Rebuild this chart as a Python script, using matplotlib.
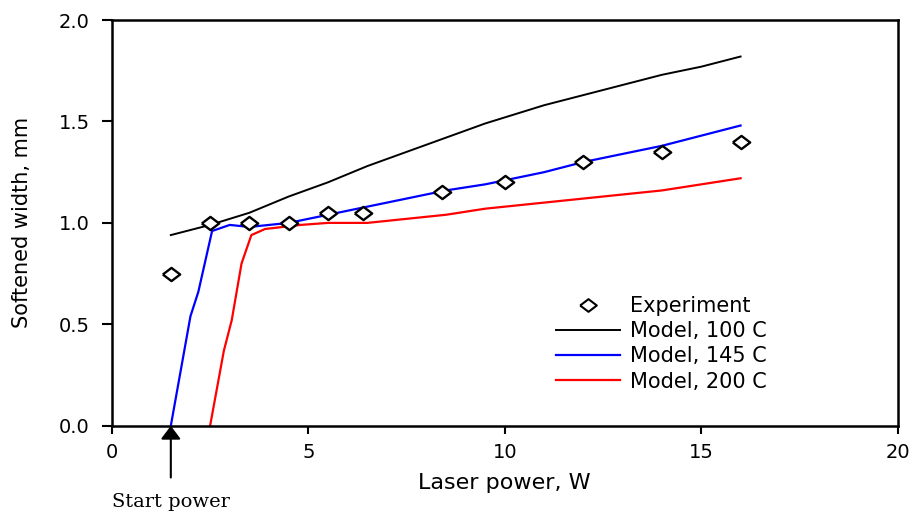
import matplotlib
matplotlib.use("Agg")
import matplotlib.pyplot as plt
from matplotlib.lines import Line2D

plt.rcParams['font.family'] = ['DejaVu Sans']

# Measured softened width
exp_power = [1.5, 2.5, 3.5, 4.5, 5.5, 6.4, 8.4, 10.0, 12.0, 14.0, 16.0]
exp_width = [0.75, 1.0, 1.0, 1.0, 1.05, 1.05, 1.15, 1.2, 1.3, 1.35, 1.4]

# Model predictions at three preheat temperatures
m100_power = [1.5, 2.5, 3.0, 3.5, 4.5, 5.5, 6.5, 7.5, 8.5, 9.5, 10.0, 11.0, 12.0, 13.0, 14.0, 15.0, 16.0]
m100_width = [0.94, 0.99, 1.02, 1.05, 1.13, 1.20, 1.28, 1.35, 1.42, 1.49, 1.52, 1.58, 1.63, 1.68, 1.73, 1.77, 1.82]

m145_power = [1.5, 2.0, 2.2, 2.55, 3.0, 3.5, 4.5, 5.5, 6.5, 7.5, 8.5, 9.5, 10.0, 11.0, 12.0, 13.0, 14.0, 15.0, 16.0]
m145_width = [0.0, 0.54, 0.66, 0.96, 0.99, 0.98, 1.0, 1.04, 1.08, 1.12, 1.16, 1.19, 1.21, 1.25, 1.30, 1.34, 1.38, 1.43, 1.48]

m200_power = [2.5, 2.85, 3.05, 3.3, 3.55, 3.9, 4.8, 5.5, 6.5, 7.5, 8.5, 9.5, 10.0, 11.0, 12.0, 13.0, 14.0, 15.0, 16.0]
m200_width = [0.0, 0.37, 0.52, 0.80, 0.94, 0.97, 0.99, 1.0, 1.0, 1.02, 1.04, 1.07, 1.08, 1.10, 1.12, 1.14, 1.16, 1.19, 1.22]

start_power = 1.5

x_ticks = [0, 5, 10, 15, 20]
y_ticks = [0.0, 0.5, 1.0, 1.5, 2.0]

# open diamond, a little wider than tall
diamond = [(-1.0, 0.0), (0.0, 0.76), (1.0, 0.0), (0.0, -0.76), (-1.0, 0.0)]

fig = plt.figure(figsize=(9.17, 5.13), dpi=100)
ax = fig.add_axes([0.122, 0.170, 0.857, 0.791])

ax.plot(m100_power, m100_width, color='black', lw=1.4, label='Model, 100 C')
ax.plot(m145_power, m145_width, color='#0000ff', lw=1.6, label='Model, 145 C')
ax.plot(m200_power, m200_width, color='#ff0000', lw=1.6, label='Model, 200 C')
ax.plot(exp_power, exp_width, linestyle='none', marker=diamond, markersize=12.5,
        markerfacecolor='white', markeredgecolor='black', markeredgewidth=1.7,
        label='Experiment', zorder=5)

ax.set_xlim(0, 20)
ax.set_ylim(0, 2.0)
ax.set_xticks(x_ticks)
ax.set_xticklabels([str(t) for t in x_ticks])
ax.set_yticks(y_ticks)
ax.set_yticklabels([f'{t:.1f}' for t in y_ticks])
ax.tick_params(axis='both', direction='out', width=1.5, labelsize=14,
               top=False, right=False)
ax.tick_params(axis='x', length=5.5, pad=7)
ax.tick_params(axis='y', length=7, pad=9)
for s in ax.spines.values():
    s.set_linewidth(1.8)

ax.set_xlabel('Laser power, W', fontsize=16, labelpad=7.5)
ax.set_ylabel('Softened width, mm', fontsize=15, labelpad=19)

# Start power marker below the axis
ax.annotate('', xy=(start_power, 0.0), xycoords='data',
            xytext=(start_power, -0.255), textcoords='data',
            arrowprops=dict(arrowstyle='-|>,head_length=0.8,head_width=0.6',
                            color='black', lw=1.5, shrinkA=0, shrinkB=0),
            annotation_clip=False)
ax.text(start_power, -0.375, 'Start power', ha='center', va='center',
        fontsize=14, family=['DejaVu Serif'],
        transform=ax.transData, clip_on=False)

handles = [
    Line2D([], [], linestyle='none', marker=diamond, markersize=12, markerfacecolor='white',
           markeredgecolor='black', markeredgewidth=1.5),
    Line2D([], [], color='black', lw=1.4),
    Line2D([], [], color='#0000ff', lw=1.6),
    Line2D([], [], color='#ff0000', lw=1.6),
]
labels = ['Experiment', 'Model, 100 C', 'Model, 145 C', 'Model, 200 C']
ax.legend(handles, labels, loc='upper left', bbox_to_anchor=(0.565, 0.32),
          frameon=False, fontsize=15, handlelength=3.1, handletextpad=0.45,
          labelspacing=0.25, borderpad=0, borderaxespad=0)

fig.savefig('out.png', dpi=100)
